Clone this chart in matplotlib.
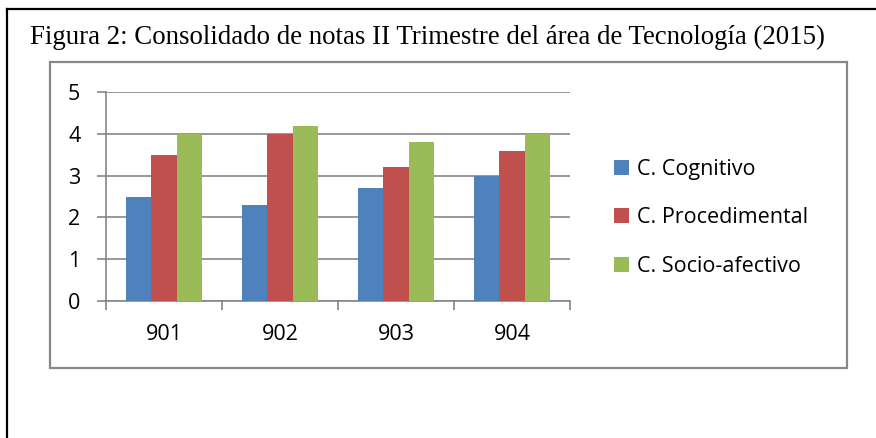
import matplotlib
matplotlib.use("Agg")
import matplotlib.pyplot as plt
import numpy as np
from matplotlib.patches import Rectangle
from matplotlib.lines import Line2D

# Data
grupos = ["901", "902", "903", "904"]
cognitivo = [2.5, 2.3, 2.7, 3.0]
procedimental = [3.5, 4.0, 3.2, 3.6]
socio_afectivo = [4.0, 4.2, 3.8, 4.0]
series = ["C. Cognitivo", "C. Procedimental", "C. Socio-afectivo"]
colores = ["#4F81BD", "#C0504D", "#9BBB59"]
titulo = "Figura 2: Consolidado de notas II Trimestre del área de Tecnología (2015)"

W, H = 876, 438
fig = plt.figure(figsize=(W / 100, H / 100), dpi=100)

def px(x, y):
    # pixel coords (top-left origin) -> figure fraction
    return x / W, 1 - y / H

# outer black frame (only top and left visible)
fig.add_artist(Line2D([px(7, 0)[0], 1.0], [px(0, 9)[1]] * 2, color="black", lw=1.6))
fig.add_artist(Line2D([px(7, 0)[0]] * 2, [0, px(0, 9)[1]], color="black", lw=1.6))

# title
fig.text(*px(30, 44), titulo, family="Liberation Serif", fontsize=19.4,
         va="baseline", ha="left", color="black")

# chart box
x0, y0 = px(50, 368)
x1, y1 = px(847, 62)
fig.add_artist(Rectangle((x0, y0), x1 - x0, y1 - y0, transform=fig.transFigure,
                         fill=False, edgecolor="#878787", lw=1.6))

# plot area
ax_l, ax_b = px(106, 300.7)
ax_r, ax_t = px(570, 92.3)
ax = fig.add_axes([ax_l, ax_b, ax_r - ax_l, ax_t - ax_b])

x = np.arange(len(grupos))
w = 0.22
valores = [cognitivo, procedimental, socio_afectivo]
for i, (vals, nombre, c) in enumerate(zip(valores, series, colores)):
    ax.bar(x + (i - 1) * w, vals, width=w, color=c, label=nombre, zorder=3)

ax.set_xlim(-0.5, len(grupos) - 0.5)
ax.set_ylim(0, 5)
ax.set_yticks(range(6))
ax.yaxis.grid(True, color="#868686", lw=1.2, zorder=0)
ax.set_axisbelow(True)

gris = "#868686"
for s in ["top", "right"]:
    ax.spines[s].set_visible(False)
for s in ["left", "bottom"]:
    ax.spines[s].set_color(gris)
    ax.spines[s].set_linewidth(1.2)

fs = 15.5
ax.set_xticks(x)
ax.set_xticklabels(grupos)
ax.set_xticks(np.arange(-0.5, len(grupos)), minor=True)
ax.tick_params(axis="x", which="major", length=0, pad=17)
ax.tick_params(axis="x", which="minor", length=6.5, width=1.2, color=gris, direction="out")
ax.tick_params(axis="y", length=6.5, width=1.2, color=gris, direction="out", pad=12)
for lab in ax.get_xticklabels() + ax.get_yticklabels():
    lab.set_family("Open Sans")
    lab.set_fontsize(fs)

leg = fig.legend(loc="upper left", bbox_to_anchor=px(614, 159), frameon=False,
                 prop={"family": "Open Sans", "size": fs}, handlelength=0.7,
                 handleheight=0.7, handletextpad=0.35, labelspacing=1.27,
                 borderaxespad=0, borderpad=0)

fig.savefig("out.png", dpi=100)
